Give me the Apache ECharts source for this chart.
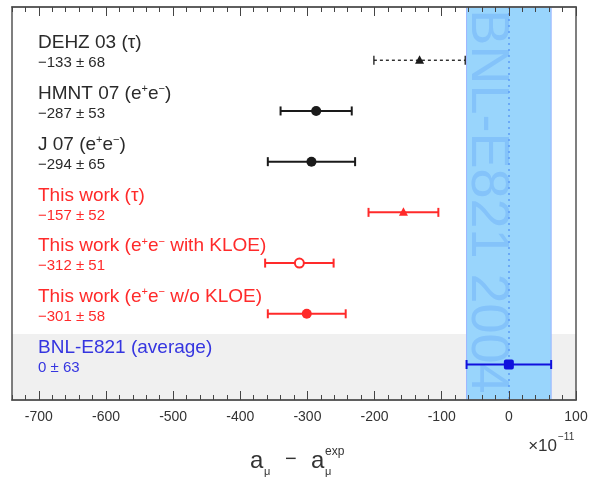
<!DOCTYPE html>
<html>
<head>
<meta charset="utf-8">
<script src="https://cdn.jsdelivr.net/npm/echarts@6.0.0/dist/echarts.min.js"></script>
<style>
  html, body { margin: 0; padding: 0; background: #fff; }
  #chart { width: 592px; height: 479px; }
</style>
</head>
<body>
<div id="chart"></div>
<script>
// measurements, top row first
var names = ['DEHZ 03 (τ)', 'HMNT 07 (e⁺e⁻)', 'J 07 (e⁺e⁻)', 'This work (τ)',
  'This work (e⁺e⁻ with KLOE)', 'This work (e⁺e⁻ w/o KLOE)', 'BNL-E821 (average)']
var centers = [-133, -287, -294, -157, -312, -301, 0]
var errors = [68, 53, 65, 52, 51, 58, 63]
var rows = [1, 2, 3, 4, 5, 6, 7]
var majorTicks = [-700, -600, -500, -400, -300, -200, -100, 0, 100]
var minorTicks = [-740, -720, -680, -660, -640, -620, -580, -560, -540, -520, -480, -460, -440, -420,
  -380, -360, -340, -320, -280, -260, -240, -220, -180, -160, -140, -120, -80, -60, -40, -20, 20, 40, 60, 80]

var FONT = '"Liberation Sans", Arial, Helvetica, sans-serif'
var RED = '#ff2a2a'
var rowStyle = [
  {color: '#1a1a1a', text: '#2a2a2a', marker: 'triangle', dash: [3, 3], width: 1.3},
  {color: '#1a1a1a', text: '#2a2a2a', marker: 'circle'},
  {color: '#1a1a1a', text: '#2a2a2a', marker: 'circle'},
  {color: RED, text: RED, marker: 'triangle'},
  {color: RED, text: RED, marker: 'open'},
  {color: RED, text: RED, marker: 'circle'},
  {color: '#1010dd', text: '#3535e0', marker: 'square'}
]

var bandLo = centers[6] - errors[6]
var bandHi = centers[6] + errors[6]

// e⁺e⁻ -> rich text superscripts
function richName (s) {
  return s.replace(/⁺/g, '{s|+}').replace(/⁻/g, '{s|−}')
}
function valueText (i) {
  var c = centers[i]
  return (c < 0 ? '−' : '') + Math.abs(c) + ' ± ' + errors[i]
}

function renderItem (params, api) {
  var i = params.dataIndex
  var st = rowStyle[i]
  var row = api.value(2)
  var p = api.coord([api.value(0), row])
  var lo = api.coord([api.value(0) - api.value(1), row])
  var hi = api.coord([api.value(0) + api.value(1), row])
  var lw = st.width || 2
  var line = {stroke: st.color, lineWidth: lw, lineDash: st.dash || null}
  var kids = [
    {type: 'line', shape: {x1: lo[0], y1: lo[1], x2: hi[0], y2: hi[1]}, style: line},
    {type: 'line', shape: {x1: lo[0], y1: lo[1] - 4.5, x2: lo[0], y2: lo[1] + 4.5}, style: {stroke: st.color, lineWidth: lw}},
    {type: 'line', shape: {x1: hi[0], y1: hi[1] - 4.5, x2: hi[0], y2: hi[1] + 4.5}, style: {stroke: st.color, lineWidth: lw}}
  ]
  if (st.marker === 'circle') {
    kids.push({type: 'circle', shape: {cx: p[0], cy: p[1], r: 5}, style: {fill: st.color}})
  } else if (st.marker === 'open') {
    kids.push({type: 'circle', shape: {cx: p[0], cy: p[1], r: 4.5}, style: {fill: '#fff', stroke: st.color, lineWidth: 2}})
  } else if (st.marker === 'triangle') {
    kids.push({type: 'polygon', shape: {points: [[p[0], p[1] - 5], [p[0] - 4.5, p[1] + 3.5], [p[0] + 4.5, p[1] + 3.5]]}, style: {fill: st.color}})
  } else {
    kids.push({type: 'rect', shape: {x: p[0] - 5, y: p[1] - 5, width: 10, height: 10, r: 2}, style: {fill: st.color}})
  }
  var tx = params.coordSys.x + 26
  kids.push({type: 'text', style: {
    x: tx, y: p[1] - 17, text: richName(names[i]), fill: st.text, font: '19px ' + FONT,
    verticalAlign: 'middle', align: 'left',
    rich: {s: {fontSize: 11, fontFamily: FONT, fill: st.text, verticalAlign: 'bottom', padding: [0, 0, 9, 0]}}
  }})
  kids.push({type: 'text', style: {
    x: tx, y: p[1] + 3, text: valueText(i), fill: st.text, font: '15px ' + FONT,
    verticalAlign: 'middle', align: 'left'
  }})
  return {type: 'group', children: kids}
}

var frame = {show: true, onZero: false, lineStyle: {color: '#555', width: 1.5}}
function xAxisDef (pos, ticks, len, labels) {
  return {
    type: 'value', position: pos, min: -740, max: 100, z: 10,
    axisLine: frame,
    splitLine: {show: false},
    axisTick: {show: true, inside: true, length: len, customValues: ticks, lineStyle: {color: '#444', width: 1}},
    axisLabel: labels ? {show: true, customValues: ticks, margin: 10, fontSize: 14, color: '#333', fontFamily: FONT}
      : {show: false}
  }
}

var option = {
  backgroundColor: '#fff',
  animation: false,
  grid: {left: 12, right: 16, top: 7, bottom: 79},
  xAxis: [
    xAxisDef('bottom', majorTicks, 9, true),
    xAxisDef('top', majorTicks, 9, false),
    xAxisDef('bottom', minorTicks, 5, false),
    xAxisDef('top', minorTicks, 5, false)
  ],
  yAxis: [
    {type: 'value', inverse: true, min: -0.05, max: 7.7, position: 'left', z: 10,
      axisLine: frame, axisTick: {show: false}, axisLabel: {show: false}, splitLine: {show: false}},
    {type: 'value', inverse: true, min: -0.05, max: 7.7, position: 'right', z: 10,
      axisLine: frame, axisTick: {show: false}, axisLabel: {show: false}, splitLine: {show: false}}
  ],
  series: [{
    type: 'line', data: [], z: 0, silent: true,
    markArea: {silent: true, data: [
      [{yAxis: 6.4, itemStyle: {color: '#f0f0f0'}}, {yAxis: 7.7}],
      [{xAxis: bandLo, itemStyle: {color: '#99d5fc', borderColor: '#9cb6ff', borderWidth: 1}}, {xAxis: bandHi}]
    ]},
    markLine: {silent: true, symbol: 'none', label: {show: false},
      lineStyle: {color: '#5c9cf5', type: [2, 4], width: 1.5},
      data: [{xAxis: centers[6]}]}
  }, {
    type: 'custom', z: 5, renderItem: renderItem,
    encode: {x: 0, y: 2},
    data: rows.map(function (r, i) { return [centers[i], errors[i], r] })
  }]
}

var chart = echarts.init(document.getElementById('chart'))
chart.setOption(option)

// rotated experiment name inside the band, axis title and unit
var bx = chart.convertToPixel({xAxisIndex: 0}, bandLo)
var gy = chart.convertToPixel({yAxisIndex: 0}, (option.yAxis[0].min + option.yAxis[0].max) / 2)
var tc = '#333'
chart.setOption({
  graphic: [
    {type: 'text', x: bx + 20, y: gy - 2, rotation: -Math.PI / 2, z: 2, silent: true,
      style: {text: 'BNL-E821 2004', font: '54px ' + FONT, fill: '#84c3fa', align: 'center', verticalAlign: 'middle'}},
    {type: 'text', x: 250, y: 461, style: {text: 'a', font: '24px ' + FONT, fill: tc, verticalAlign: 'middle'}},
    {type: 'text', x: 264, y: 472, style: {text: 'μ', font: '11px ' + FONT, fill: tc, verticalAlign: 'middle'}},
    {type: 'text', x: 285, y: 459, style: {text: '−', font: '20px ' + FONT, fill: tc, verticalAlign: 'middle'}},
    {type: 'text', x: 311, y: 461, style: {text: 'a', font: '24px ' + FONT, fill: tc, verticalAlign: 'middle'}},
    {type: 'text', x: 325, y: 452, style: {text: 'exp', font: '12px ' + FONT, fill: tc, verticalAlign: 'middle'}},
    {type: 'text', x: 325, y: 472, style: {text: 'μ', font: '11px ' + FONT, fill: tc, verticalAlign: 'middle'}},
    {type: 'text', x: 557, y: 446, style: {text: '×10', font: '17px ' + FONT, fill: tc, align: 'right', verticalAlign: 'middle'}},
    {type: 'text', x: 558, y: 437, style: {text: '−11', font: '10px ' + FONT, fill: tc, verticalAlign: 'middle'}}
  ]
})
</script>
</body>
</html>
